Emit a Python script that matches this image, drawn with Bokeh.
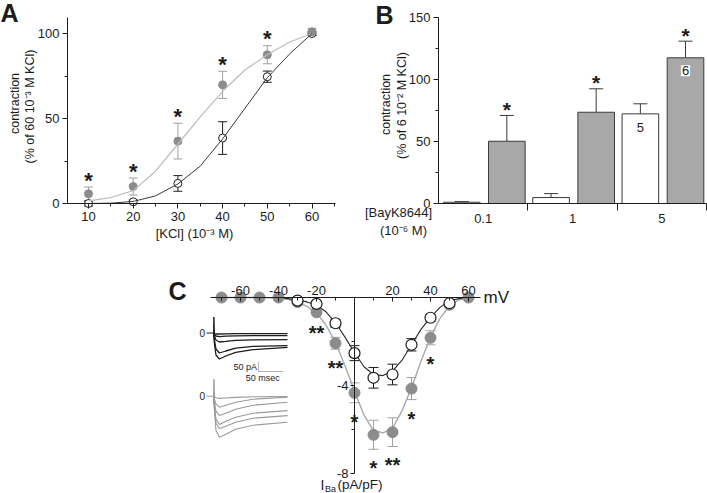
import math
from bokeh.plotting import figure
from bokeh.layouts import column, row
from bokeh.models import ColumnDataSource, FixedTicker, Whisker, TeeHead, Range1d
from bokeh.core.properties import value
from bokeh.embed import file_html
from bokeh.resources import INLINE

FONT = "Liberation Sans"
INK = "#1c1c1c"
GREY_PT = "#8c8c8c"
GREY_FIT = "#bcbcbc"
GREY_ERR = "#a0a0a0"
GREY_BAR = "#a8a8a8"
BAR_EDGE = "#3a3a3a"
GREY_TRACE = "#9a9a9a"

# ---------------- Panel A data ----------------
kcl = [10, 20, 30, 40, 50, 60]
kcl_ctrl = [0.0, 1.0, 11.8, 38.5, 74.6, 100.0]
kcl_ctrl_sem = [1.5, 1.0, 4.6, 9.6, 3.3, 1.0]
kcl_bayk = [5.7, 10.0, 36.7, 69.8, 87.5, 101.0]
kcl_bayk_sem = [4.0, 5.0, 10.5, 8.0, 5.3, 2.0]
kcl_bayk_sig = ["*", "*", "*", "*", "*", ""]
kcl_fit_x = [10, 15, 20, 25, 30, 35, 40, 45, 50, 55, 60]
kcl_ctrl_fit = [0.0, 0.2, 1.2, 4.5, 11.5, 22.0, 38.0, 56.0, 74.0, 88.0, 100.0]
kcl_bayk_fit = [1.5, 3.5, 7.6, 19.0, 35.0, 51.0, 66.0, 78.5, 87.5, 95.0, 100.0]
kcl_ticks = [10, 20, 30, 40, 50, 60]
kcl_minor = [15, 25, 35, 45, 55, 65]
contr_ticks_a = [0, 50, 100]
contr_minor_a = [25, 75]

# ---------------- Panel B data ----------------
bayk_conc = ["0.1", "1", "5"]
b_ctrl = [1.0, 4.8, 72.3]
b_ctrl_sem = [0.5, 3.2, 8.1]
b_bayk = [50.2, 73.6, 117.5]
b_bayk_sem = [20.8, 18.9, 13.4]
b_ctrl_n = ["", "", "5"]
b_bayk_n = ["", "", "6"]
b_bayk_sig = ["*", "*", "*"]
contr_ticks_b = [0, 50, 100, 150]
contr_minor_b = [25, 75, 125]

# ---------------- Panel C data ----------------
iv_mv = [-70, -60, -50, -40, -30, -20, -10, 0, 10, 20, 30, 40, 50, 60]
iv_bayk = [0.0, 0.0, 0.0, 0.0, -0.21, -0.67, -2.08, -4.33, -6.24, -6.12, -4.14, -1.83, -0.33, 0.0]
iv_bayk_sem = [0.04, 0.04, 0.04, 0.04, 0.06, 0.1, 0.27, 0.45, 0.66, 0.65, 0.5, 0.32, 0.1, 0.06]
iv_bayk_sig = ["", "", "", "", "", "**", "**", "*", "*", "**", "*", "*", "", ""]
iv_ctrl_mv = [-30, -20, -10, 0, 10, 20, 30, 40, 50]
iv_ctrl = [-0.14, -0.29, -1.17, -2.53, -3.65, -3.5, -2.15, -0.92, -0.26]
iv_ctrl_sem = [0.1, 0.12, 0.18, 0.34, 0.47, 0.47, 0.28, 0.15, 0.1]
iv_bayk_fit_mv = [-70, -65, -60, -55, -50, -45, -40, -35, -30, -25, -20, -15, -10, -5,
                  0, 5, 10, 15, 20, 25, 30, 35, 40, 45, 50, 55, 60]
iv_bayk_fit = [0, 0, 0, 0, 0, -0.01, -0.03, -0.08, -0.2, -0.4, -0.7, -1.25, -2.05, -3.1,
               -4.25, -5.35, -6.05, -6.15, -5.95, -5.15, -4.1, -2.9, -1.8, -0.95, -0.38, -0.1, 0]
iv_ctrl_fit_mv = [-40, -35, -30, -25, -20, -15, -10, -5, 0, 5, 10, 15, 20, 25, 30, 35, 40, 45, 50, 55, 60]
iv_ctrl_fit = [-0.02, -0.05, -0.12, -0.2, -0.35, -0.65, -1.15, -1.8, -2.5, -3.15, -3.5, -3.55,
               -3.35, -2.85, -2.15, -1.45, -0.9, -0.45, -0.15, -0.05, 0]
iv_ticks = [-60, -40, -20, 20, 40, 60]
iv_tick_labels = ["-60", "-40", "-20", "20", "40", "60"]
iv_minor = [-70, -50, -30, -10, 10, 30, 50]
iba_ticks = [-8, -4]
iba_tick_labels = ["-8", "-4"]
iba_minor = [-6, -2]

# current traces (inset): time in ms, current in pA
trace_t = [0, 2, 5, 12, 25, 45, 80, 150]
traces_ctrl = [
    [0, -3, -5, -5, -4, -3, -3, -3],
    [0, -8, -15, -18, -16, -14, -13, -13],
    [0, -15, -35, -45, -42, -37, -34, -33],
    [0, -35, -80, -100, -90, -76, -67, -63],
    [0, -55, -110, -130, -115, -97, -83, -72],
]
traces_bayk = [
    [0, -3, -8, -11, -9, -6, -3, -2],
    [0, -15, -40, -55, -45, -30, -15, -5],
    [0, -30, -75, -96, -85, -65, -45, -30],
    [0, -50, -115, -141, -125, -105, -85, -72],
    [0, -60, -135, -161, -150, -130, -110, -97],
    [0, -75, -170, -205, -190, -165, -145, -130],
]
artifact_t = [0, 0.8, 2]
artifact_ctrl = [0, 80, 0]
artifact_bayk = [0, 85, 0]
scale_pa = 50
scale_ms = 50


class Panel:
    """A figure whose plotting frame fills the whole figure; page-pixel anchors define the scales."""

    def __init__(self, left, top, width, height, xval, xpx, sx, yval, ypx, sy):
        self.left, self.top, self.w, self.h = left, top, width, height
        self.xr = (xval - (xpx - left) / sx, xval + (left + width - xpx) / sx)
        self.yr = (yval - (top + height - ypx) / sy, yval + (ypx - top) / sy)
        self.sx, self.sy = sx, sy
        p = figure(width=width, height=height, x_range=Range1d(*self.xr), y_range=Range1d(*self.yr),
                   output_backend="svg", toolbar_location=None,
                   min_border_left=0, min_border_right=0, min_border_top=0, min_border_bottom=0)
        p.title.visible = False
        p.outline_line_color = None
        p.xgrid.visible = False
        p.ygrid.visible = False
        p.background_fill_color = "white"
        p.border_fill_color = "white"
        self.p = p

    def fx(self, px):
        return self.xr[0] + (px - self.left) / self.sx

    def fy(self, py):
        return self.yr[0] + (self.top + self.h - py) / self.sy

    def extra_x(self, name, val, px, s):
        self.p.extra_x_ranges[name] = Range1d(val - (px - self.left) / s, val + (self.left + self.w - px) / s)

    def extra_y(self, name, val, py, s):
        self.p.extra_y_ranges[name] = Range1d(val - (self.top + self.h - py) / s, val + (py - self.top) / s)

    def text(self, px, py, text, size="13px", bold=False, angle=0.0, align="center", baseline="middle"):
        self.p.text(x=[self.fx(px)], y=[self.fy(py)], text=[text], angle=angle, text_font=value(FONT),
                    text_font_size=value(size), text_font_style="bold" if bold else "normal",
                    text_align=align, text_baseline=baseline, text_color=INK)


def style_axis(ax, size="13px"):
    ax.axis_line_color = INK
    ax.major_tick_line_color = INK
    ax.minor_tick_line_color = INK
    ax.major_label_text_font = FONT
    ax.major_label_text_font_size = size
    ax.major_label_text_color = INK


def whisker(p, src, base, lo, hi, color, size, lower=True):
    p.add_layout(Whisker(source=src, base=base, lower=lo, upper=hi, line_color=color, line_width=1,
                         upper_head=TeeHead(size=size, line_color=color, line_width=1),
                         lower_head=TeeHead(size=size, line_color=color, line_width=1) if lower else None,
                         level="underlay"))


# ================= Panel A =================
A = Panel(0, 0, 355, 248, 10, 88, 4.47, 0, 203, 1.7)
pA = A.p
srcA = ColumnDataSource(dict(
    x=kcl, c=kcl_ctrl,
    c_lo=[m - e for m, e in zip(kcl_ctrl, kcl_ctrl_sem)],
    c_hi=[m + e for m, e in zip(kcl_ctrl, kcl_ctrl_sem)],
    b=kcl_bayk,
    b_lo=[m - e for m, e in zip(kcl_bayk, kcl_bayk_sem)],
    b_hi=[m + e for m, e in zip(kcl_bayk, kcl_bayk_sem)],
    sig=kcl_bayk_sig))
whisker(pA, srcA, "x", "b_lo", "b_hi", GREY_ERR, 9)
whisker(pA, srcA, "x", "c_lo", "c_hi", INK, 9)
pA.scatter("x", "c", source=srcA, marker="circle", size=8, fill_color="white", line_color=INK, line_width=1)
pA.scatter("x", "b", source=srcA, marker="circle", size=8, fill_color=GREY_PT, line_color=GREY_PT)
pA.line(kcl_fit_x, kcl_bayk_fit, line_color=GREY_FIT, line_width=1.2)
pA.line(kcl_fit_x, kcl_ctrl_fit, line_color="#3a3a3a", line_width=1)
pA.text(x="x", y="b_hi", text="sig", source=srcA, text_font=value(FONT), text_font_size=value("22px"),
        text_font_style="bold", text_align="center", text_baseline="alphabetic", y_offset=-7, text_color=INK)
xa = pA.xaxis[0]
ya = pA.yaxis[0]
xa.fixed_location = 0
xa.bounds = (A.fx(67), A.fx(335))
ya.fixed_location = A.fx(67)
ya.bounds = (0, A.fy(17))
xa.ticker = FixedTicker(ticks=kcl_ticks, minor_ticks=kcl_minor)
ya.ticker = FixedTicker(ticks=contr_ticks_a, minor_ticks=contr_minor_a)
for ax in (xa, ya):
    style_axis(ax)
    ax.major_tick_out = 5
    ax.major_tick_in = 0
    ax.minor_tick_out = 3
    ax.minor_tick_in = 0
    ax.major_label_standoff = 3
A.text(0, 12.5, "A", size="25px", bold=True, align="left")
A.text(14, 103, "contraction", size="12.5px", angle=math.pi / 2)
A.text(29.5, 106, "(% of 60 10⁻³ M KCl)", size="12.5px", angle=math.pi / 2)
A.text(194, 233, "[KCl] (10⁻³ M)")

# ================= Panel B =================
B = Panel(355, 0, 352, 248, 0.5, 438, 89.33, 0, 203, 1.24)
pB = B.p
groups = [i + 1 for i in range(len(bayk_conc))]
ctrl_x = [g - 0.24 for g in groups]
bayk_x = [g + 0.265 for g in groups]
srcBc = ColumnDataSource(dict(x=ctrl_x, top=b_ctrl, hi=[m + e for m, e in zip(b_ctrl, b_ctrl_sem)]))
srcBb = ColumnDataSource(dict(x=bayk_x, top=b_bayk, hi=[m + e for m, e in zip(b_bayk, b_bayk_sem)],
                              sig=b_bayk_sig))
whisker(pB, srcBc, "x", "top", "hi", BAR_EDGE, 14, lower=False)
whisker(pB, srcBb, "x", "top", "hi", BAR_EDGE, 14, lower=False)
pB.vbar(x="x", top="top", width=0.41, source=srcBc, fill_color="white", line_color=BAR_EDGE, line_width=1)
pB.vbar(x="x", top="top", width=0.41, source=srcBb, fill_color=GREY_BAR, line_color=BAR_EDGE, line_width=1)
pB.text(x="x", y="hi", text="sig", source=srcBb, text_font=value(FONT), text_font_size=value("21px"),
        text_font_style="bold", text_align="center", text_baseline="alphabetic", y_offset=-6, text_color=INK)
nc = [(x, t, n) for x, t, n in zip(ctrl_x, b_ctrl, b_ctrl_n) if n]
nb = [(x, t, n) for x, t, n in zip(bayk_x, b_bayk, b_bayk_n) if n]
pB.text(x=[a[0] for a in nc], y=[a[1] for a in nc], text=[a[2] for a in nc], text_font=value(FONT),
        text_font_size=value("13px"), text_align="center", text_baseline="middle", y_offset=14, text_color=INK)
pB.text(x=[a[0] for a in nb], y=[a[1] for a in nb], text=[a[2] for a in nb], text_font=value(FONT),
        text_font_size=value("13px"), text_align="center", text_baseline="middle", y_offset=13, text_color=INK,
        background_fill_color="white", padding=1)
xb = pB.xaxis[0]
yb = pB.yaxis[0]
xb.fixed_location = 0
xb.bounds = (0.5, 3.5)
yb.fixed_location = 0.5
yb.bounds = (0, 150)
xb.ticker = FixedTicker(ticks=groups, minor_ticks=[g + 0.5 for g in groups])
xb.major_label_overrides = {g: c for g, c in zip(groups, bayk_conc)}
yb.ticker = FixedTicker(ticks=contr_ticks_b, minor_ticks=contr_minor_b)
for ax in (xb, yb):
    style_axis(ax)
    ax.major_label_standoff = 3
xb.major_tick_out = 0
xb.major_tick_in = 0
xb.minor_tick_out = 7
xb.minor_tick_in = 0
yb.major_tick_out = 5
yb.major_tick_in = 0
yb.minor_tick_out = 3
yb.minor_tick_in = 0
B.text(375, 14, "B", size="25px", bold=True, align="left")
B.text(385, 104, "contraction", size="12.5px", angle=math.pi / 2)
B.text(401.5, 105, "(% of 6 10⁻² M KCl)", size="12.5px", angle=math.pi / 2)
B.text(398, 212, "[BayK8644]")
B.text(403, 230, "(10⁻⁶ M)")

# ================= Panel C =================
C = Panel(0, 248, 707, 245, 0, 354, 1.9, 0, 297, 22.0)
pC = C.p
C.extra_x("ms", 0, 213, 74 / 150.0)
C.extra_y("pa_k", 0, 332.5, 0.2)
C.extra_y("pa_g", 0, 395.7, 0.2)
for tr in traces_bayk:
    pC.line(trace_t, tr, x_range_name="ms", y_range_name="pa_g", line_color=GREY_TRACE, line_width=1.1)
pC.line(artifact_t, artifact_bayk, x_range_name="ms", y_range_name="pa_g", line_color=GREY_TRACE, line_width=1)
for tr in traces_ctrl:
    pC.line(trace_t, tr, x_range_name="ms", y_range_name="pa_k", line_color=INK, line_width=1.3)
pC.line(artifact_t, artifact_ctrl, x_range_name="ms", y_range_name="pa_k", line_color=INK, line_width=1)
for rng, col in (("pa_k", INK), ("pa_g", GREY_TRACE)):
    pC.segment(x0=[-14], y0=[0], x1=[0], y1=[0], x_range_name="ms", y_range_name=rng, line_color=col, line_width=1)
    pC.text(x=[-17], y=[0], text=["0"], x_range_name="ms", y_range_name=rng, text_font=value(FONT),
            text_font_size=value("10px"), text_align="right", text_baseline="middle", text_color=INK)
sb_t0, sb_i0 = 91, -192.5
pC.segment(x0=[sb_t0, sb_t0], y0=[sb_i0, sb_i0], x1=[sb_t0, sb_t0 + scale_ms], y1=[sb_i0 + scale_pa, sb_i0],
           x_range_name="ms", y_range_name="pa_k", line_color="#b0b0b0", line_width=1)
pC.text(x=[sb_t0 - 3], y=[sb_i0 + 25], text=[f"{scale_pa} pA"], x_range_name="ms", y_range_name="pa_k",
        text_font=value(FONT), text_font_size=value("9px"), text_align="right", text_baseline="middle",
        text_color=INK)
pC.text(x=[sb_t0 + 9], y=[sb_i0 - 34.5], text=[f"{scale_ms} msec"], x_range_name="ms", y_range_name="pa_k",
        text_font=value(FONT), text_font_size=value("9px"), text_align="center", text_baseline="middle",
        text_color=INK)

srcCb = ColumnDataSource(dict(
    x=iv_mv, y=iv_bayk,
    lo=[m - e for m, e in zip(iv_bayk, iv_bayk_sem)],
    hi=[m + e for m, e in zip(iv_bayk, iv_bayk_sem)]))
srcCc = ColumnDataSource(dict(
    x=iv_ctrl_mv, y=iv_ctrl,
    lo=[m - e for m, e in zip(iv_ctrl, iv_ctrl_sem)],
    hi=[m + e for m, e in zip(iv_ctrl, iv_ctrl_sem)]))
whisker(pC, srcCb, "x", "lo", "hi", GREY_ERR, 10)
whisker(pC, srcCc, "x", "lo", "hi", INK, 10)
pC.line(iv_bayk_fit_mv, iv_bayk_fit, line_color="#a8a8a8", line_width=1.4)
pC.line(iv_ctrl_fit_mv, iv_ctrl_fit, line_color="#2a2a2a", line_width=1.1)
pC.scatter("x", "y", source=srcCb, marker="circle", size=11, fill_color=GREY_PT, line_color=GREY_PT)
pC.scatter("x", "y", source=srcCc, marker="circle", size=11, fill_color="white", line_color=INK, line_width=1.2)
stars = [(x, m - e, s) for x, m, e, s in zip(iv_mv, iv_bayk, iv_bayk_sem, iv_bayk_sig) if s]
pC.text(x=[s[0] for s in stars], y=[s[1] for s in stars], text=[s[2] for s in stars], text_font=value(FONT),
        text_font_size=value("20px"), text_font_style="bold", text_align="center", text_baseline="alphabetic",
        y_offset=19, text_color=INK)

xc = pC.xaxis[0]
style_axis(xc)
xc.fixed_location = 0
xc.bounds = (C.fx(210), C.fx(480))
xc.ticker = FixedTicker(ticks=iv_ticks, minor_ticks=iv_minor)
xc.major_label_overrides = {t: l for t, l in zip(iv_ticks, iv_tick_labels)}
xc.major_tick_in = 4
xc.major_tick_out = 0
xc.minor_tick_in = 3
xc.minor_tick_out = 0
xc.major_label_standoff = 3
yc = pC.yaxis[0]
style_axis(yc)
yc.fixed_location = 0
yc.bounds = (-8, 0)
yc.ticker = FixedTicker(ticks=iba_ticks, minor_ticks=iba_minor)
yc.major_label_overrides = {t: l for t, l in zip(iba_ticks, iba_tick_labels)}
yc.major_tick_out = 4
yc.major_tick_in = 0
yc.minor_tick_out = 3
yc.minor_tick_in = 0
yc.major_label_standoff = 2
# x axis of panel C drawn with its labels above the line
pC.below.remove(xc)
pC.add_layout(xc, "above")
C.text(168, 290.5, "C", size="25px", bold=True, align="left")
C.text(483, 297, "mV", size="17px", align="left")
C.text(320, 484, "I", size="14px", align="left")
C.text(324.5, 488, "Ba", size="9px", align="left")
C.text(337, 484, "(pA/pF)", size="13.5px", align="left")

layout = column(row(pA, pB), pC)
open("out.html", "w").write(file_html(layout, INLINE))
